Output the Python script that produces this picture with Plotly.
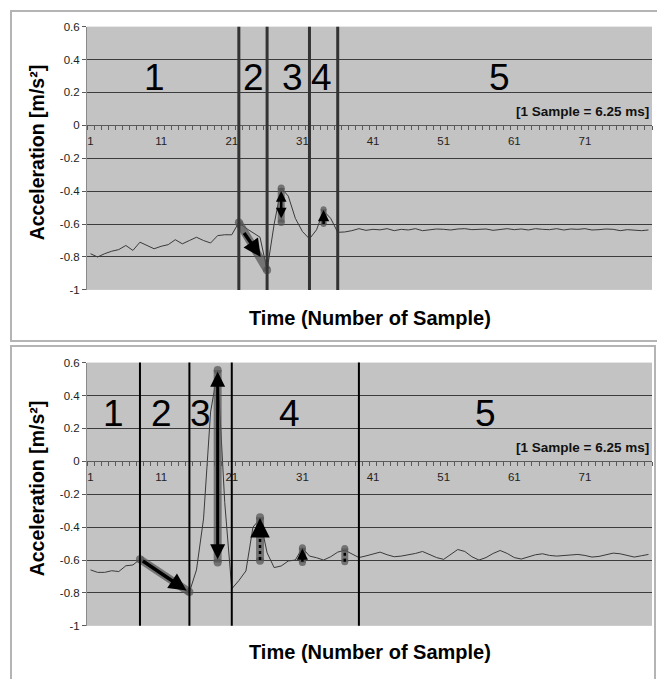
import plotly.graph_objects as go

# ---------------- data ----------------
samples = list(range(1, 81))

top_acc = [
    -0.78, -0.80, -0.78, -0.765, -0.755, -0.73, -0.76, -0.71, -0.73, -0.75,
    -0.735, -0.725, -0.695, -0.72, -0.70, -0.68, -0.70, -0.715, -0.67, -0.665,
    -0.665, -0.59, -0.625, -0.65, -0.68, -0.88, -0.60, -0.38, -0.43, -0.565,
    -0.645, -0.69, -0.635, -0.52, -0.565, -0.65, -0.648, -0.64, -0.628, -0.638,
    -0.632, -0.635, -0.628, -0.64, -0.632, -0.636, -0.628, -0.64, -0.634, -0.63,
    -0.632, -0.636, -0.63, -0.628, -0.634, -0.632, -0.63, -0.638, -0.632, -0.628,
    -0.634, -0.63, -0.636, -0.628, -0.632, -0.634, -0.628, -0.636, -0.63, -0.632,
    -0.628, -0.636, -0.634, -0.63, -0.632, -0.64, -0.634, -0.636, -0.64, -0.636,
]

bottom_acc = [
    -0.66, -0.675, -0.675, -0.665, -0.67, -0.635, -0.63, -0.595, -0.63, -0.66,
    -0.69, -0.72, -0.75, -0.775, -0.795, -0.66, -0.35, 0.30, 0.55, -0.25,
    -0.775, -0.725, -0.666, -0.40, -0.35, -0.556, -0.646, -0.636, -0.606, -0.60,
    -0.526, -0.576, -0.586, -0.60, -0.58, -0.552, -0.54, -0.565, -0.585, -0.575,
    -0.565, -0.552, -0.568, -0.58, -0.576, -0.57, -0.56, -0.548, -0.565, -0.585,
    -0.596, -0.565, -0.536, -0.548, -0.58, -0.60, -0.585, -0.56, -0.542, -0.56,
    -0.585, -0.594, -0.58, -0.568, -0.562, -0.572, -0.576, -0.574, -0.57, -0.566,
    -0.572, -0.582, -0.578, -0.566, -0.558, -0.562, -0.574, -0.582, -0.574, -0.566,
]

xtick_vals = [1, 11, 21, 31, 41, 51, 61, 71]
xtick_text = ["1", "11", "21", "31", "41", "51", "61", "71"]
ytick_vals = [-1, -0.8, -0.6, -0.4, -0.2, 0, 0.2, 0.4, 0.6]
ytick_text = ["-1", "-0.8", "-0.6", "-0.4", "-0.2", "0", "0.2", "0.4", "0.6"]

top_bounds = [22, 26, 32, 36]
bottom_bounds = [8, 15, 21, 39]
region_names = ["1", "2", "3", "4", "5"]

x_title = "Time (Number of Sample)"
y_title = "Acceleration [m/s²]"
note_text = "[1 Sample = 6.25 ms]"

# ---------------- geometry helpers ----------------
W, H = 657, 679
FONT = "Liberation Sans, Arial, sans-serif"


def px(x):
    return x / W


def py(y):
    return 1 - y / H


XD = [px(87), px(652)]
TOP_YD = [py(289), py(21)]
BOT_YD = [py(631), py(363)]
YR = [-1, 0.6]
XR = [0.5, 80.5]


def zero_pos(dom):
    return dom[0] + (0 - YR[0]) / (YR[1] - YR[0]) * (dom[1] - dom[0])


PILL = "rgba(85,85,85,0.72)"

fig = go.Figure()

# data lines
fig.add_trace(go.Scatter(x=samples, y=top_acc, mode="lines",
                         line=dict(color="#3a3a3a", width=1),
                         xaxis="x", yaxis="y", hoverinfo="skip"))
fig.add_trace(go.Scatter(x=samples, y=bottom_acc, mode="lines",
                         line=dict(color="#3a3a3a", width=1),
                         xaxis="x2", yaxis="y2", hoverinfo="skip"))


def pill(x0, y0, x1, y1, xa, ya, w=8):
    fig.add_trace(go.Scatter(x=[x0, x1], y=[y0, y1], mode="lines+markers",
                             line=dict(color=PILL, width=w),
                             marker=dict(color=PILL, size=w),
                             xaxis=xa, yaxis=ya, hoverinfo="skip"))


def dashed(x, y0, y1, xa, ya):
    fig.add_trace(go.Scatter(x=[x, x], y=[y0, y1], mode="lines",
                             line=dict(color="black", width=2.5, dash="dot"),
                             xaxis=xa, yaxis=ya, hoverinfo="skip"))


# grey highlight pills (top chart)
pill(22, top_acc[21], 26, top_acc[25], "x", "y")
pill(28, -0.38, 28, -0.59, "x", "y", 7)
pill(34, -0.51, 34, -0.60, "x", "y", 6)
dashed(34, -0.60, -0.53, "x", "y")

# grey highlight pills (bottom chart)
pill(8, bottom_acc[7], 15, bottom_acc[14], "x2", "y2")
pill(19, 0.555, 19, -0.615, "x2", "y2", 8)
pill(25, -0.34, 25, -0.605, "x2", "y2", 8)
pill(31, -0.525, 31, -0.615, "x2", "y2", 7)
pill(37, -0.53, 37, -0.61, "x2", "y2", 7)
dashed(25, -0.60, -0.40, "x2", "y2")
dashed(31, -0.61, -0.55, "x2", "y2")
dashed(37, -0.61, -0.55, "x2", "y2")

annotations = []


def arrow(x, y, ax, ay, xa, ya, side="end", size=1.0, width=3):
    annotations.append(dict(x=x, y=y, ax=ax, ay=ay, xref=xa, yref=ya,
                            axref=xa, ayref=ya, text="", showarrow=True,
                            arrowhead=2, arrowsize=size, arrowwidth=width,
                            arrowcolor="black", arrowside=side, standoff=0,
                            startstandoff=0))


# top arrows
arrow(25.1, -0.80, 22.6, -0.645, "x", "y", size=1.0, width=3.5)
arrow(28, -0.40, 28, -0.575, "x", "y", side="end+start", size=0.85, width=2.5)
arrow(34, -0.515, 34, -0.545, "x", "y", size=0.9, width=2.5)

# bottom arrows
arrow(14.6, -0.785, 8.2, -0.60, "x2", "y2", size=1.0, width=3.5)
arrow(19, 0.545, 19, -0.605, "x2", "y2", side="end+start", size=1.0, width=3)
arrow(25, -0.345, 25, -0.41, "x2", "y2", size=1.3, width=3)
arrow(31, -0.53, 31, -0.56, "x2", "y2", size=0.9, width=2.5)
arrow(37, -0.535, 37, -0.56, "x2", "y2", size=0.9, width=2.5)

# region labels
top_label_x = [10.1, 24.1, 29.6, 33.7, 58.9]
bottom_label_x = [4.2, 11.0, 16.5, 29.2, 56.9]
for name, xv in zip(region_names, top_label_x):
    annotations.append(dict(x=xv, y=0.29, xref="x", yref="y", text=name,
                            xanchor="center", yanchor="middle",
                            showarrow=False, font=dict(family=FONT, size=37, color="black")))
for name, xv in zip(region_names, bottom_label_x):
    annotations.append(dict(x=xv, y=0.29, xref="x2", yref="y2", text=name,
                            xanchor="center", yanchor="middle",
                            showarrow=False, font=dict(family=FONT, size=37, color="black")))

# sample note
for xa, ya in (("x", "y"), ("x2", "y2")):
    annotations.append(dict(x=80.3, y=0.085, xref=xa, yref=ya, xanchor="right",
                            yanchor="middle",
                            text="<b>" + note_text + "</b>", showarrow=False,
                            font=dict(family=FONT, size=13.5, color="#111")))

# axis titles
for ty, yc in ((318, 149), (658, 491)):
    annotations.append(dict(x=px(369.5), y=py(ty), xref="paper", yref="paper",
                            xanchor="center", yanchor="middle",
                            text="<b>" + x_title + "</b>", showarrow=False,
                            font=dict(family=FONT, size=20, color="black")))
    annotations.append(dict(x=px(37), y=py(yc), xref="paper", yref="paper",
                            xanchor="center", yanchor="middle",
                            text="<b>" + y_title + "</b>", showarrow=False, textangle=-90,
                            font=dict(family=FONT, size=19.5, color="black")))

shapes = []
for b in top_bounds:
    shapes.append(dict(type="line", xref="x", yref="y domain", x0=b, x1=b, y0=0, y1=1,
                       line=dict(color="#333333", width=3)))
for b in bottom_bounds:
    shapes.append(dict(type="line", xref="x2", yref="y2 domain", x0=b, x1=b, y0=0, y1=1,
                       line=dict(color="black", width=2)))

# figure frames
shapes.append(dict(type="rect", xref="paper", yref="paper", x0=px(11), x1=px(670),
                   y0=py(341), y1=py(5), line=dict(color="#b4b4b4", width=2)))
shapes.append(dict(type="rect", xref="paper", yref="paper", x0=px(11), x1=px(655),
                   y0=py(690), y1=py(346), line=dict(color="#b4b4b4", width=2)))


def xaxis_cfg(ydom):
    return dict(domain=XD, range=XR, anchor="free", position=zero_pos(ydom),
                tickmode="array", tickvals=xtick_vals, ticktext=xtick_text,
                ticks="", showline=True, linecolor="#5a5a5a", linewidth=1,
                showgrid=False, zeroline=False, ticklabelstandoff=5,
                tickfont=dict(family=FONT, size=11.5, color="#222"),
                minor=dict(ticks="outside", tick0=0.5, dtick=1, ticklen=4,
                           tickcolor="#5a5a5a", tickwidth=1, showgrid=False),
                fixedrange=True)


def yaxis_cfg(ydom, anchor):
    return dict(domain=ydom, range=YR, anchor=anchor, tickmode="array",
                tickvals=ytick_vals, ticktext=ytick_text, ticks="outside",
                ticklen=4, tickcolor="#5a5a5a", showline=True, linecolor="#8a8a8a",
                showgrid=True, gridcolor="#3c3c3c", gridwidth=1, zeroline=False,
                tickfont=dict(family=FONT, size=11.5, color="#222"), fixedrange=True)


fig.update_layout(
    width=W, height=H, margin=dict(l=0, r=0, t=0, b=0),
    paper_bgcolor="white", plot_bgcolor="#c3c3c3",
    showlegend=False,
    xaxis=xaxis_cfg(TOP_YD), yaxis=yaxis_cfg(TOP_YD, "x"),
    xaxis2=xaxis_cfg(BOT_YD), yaxis2=yaxis_cfg(BOT_YD, "x2"),
    annotations=annotations, shapes=shapes,
)

fig.write_html("out.html", config={"displayModeBar": False},
               post_script="document.body.style.margin='0';document.body.style.overflow='hidden';")
